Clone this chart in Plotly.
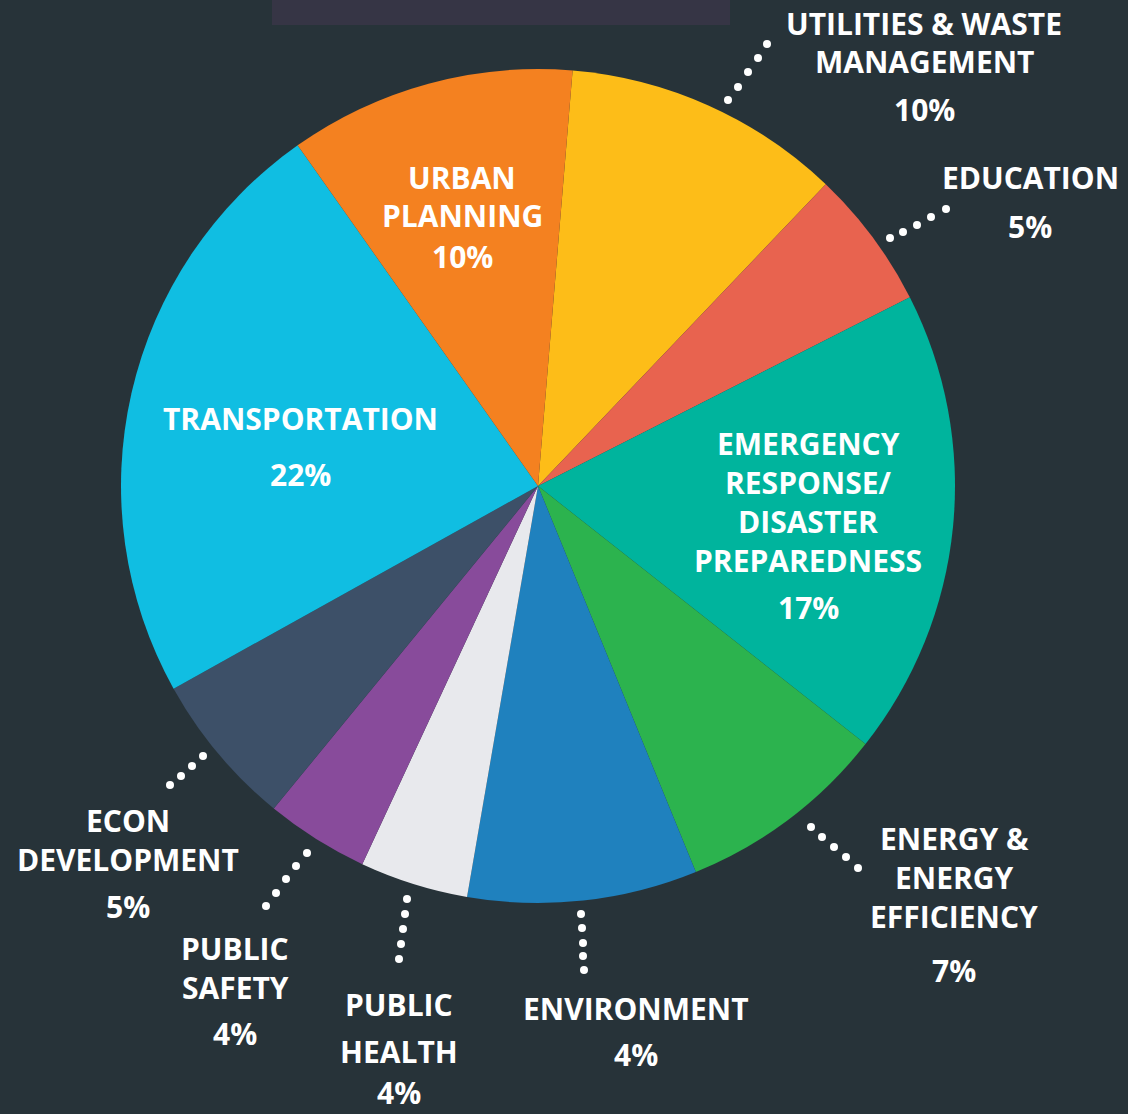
import plotly.graph_objects as go

# ---- data ----
categories = [
    "Utilities & Waste Management", "Education",
    "Emergency Response/Disaster Preparedness", "Energy & Energy Efficiency",
    "Environment", "Public Health", "Public Safety", "Econ Development",
    "Transportation", "Urban Planning",
]
slice_values = [10.8, 5.4, 18.1, 8.2, 8.9, 4.2, 4.0, 6.0, 23.3, 11.1]
label_pct = ["10%", "5%", "17%", "7%", "4%", "4%", "4%", "5%", "22%", "10%"]
colors = ["#FDBD18", "#E8634F", "#00B49D", "#2CB34E", "#1F81BE",
          "#E8E9ED", "#884B9B", "#3D5068", "#10BEE2", "#F48120"]

W, H = 1128, 1114
BG = "#273339"

def px(x):
    return x / W

def py(y):
    return 1 - y / H

cx, cy, r = 538, 486, 417

fig = go.Figure(go.Pie(
    labels=categories,
    values=slice_values,
    sort=False,
    direction="clockwise",
    rotation=4.76,
    marker=dict(colors=colors, line=dict(width=0)),
    textinfo="none",
    hoverinfo="label+percent",
    showlegend=False,
    domain=dict(x=[px(cx - r), px(cx + r)], y=[py(cy + r), py(cy - r)]),
))

# ---- text labels (line by line: text, x-center, y-center in px) ----
label_lines = [
    ("UTILITIES & WASTE", 924, 23), ("MANAGEMENT", 924, 62), (label_pct[0], 924, 109),
    ("EDUCATION", 1030, 178), (label_pct[1], 1030, 226),
    ("EMERGENCY", 808, 443), ("RESPONSE/", 808, 482), ("DISASTER", 808, 521),
    ("PREPAREDNESS", 808, 560), (label_pct[2], 808, 607),
    ("ENERGY &", 954, 838), ("ENERGY", 954, 877), ("EFFICIENCY", 954, 916),
    (label_pct[3], 954, 970),
    ("ENVIRONMENT", 636, 1008), (label_pct[4], 636, 1054),
    ("PUBLIC", 399, 1004), ("HEALTH", 399, 1051), (label_pct[5], 399, 1092),
    ("PUBLIC", 235, 948), ("SAFETY", 235, 987), (label_pct[6], 235, 1033),
    ("ECON", 128, 821), ("DEVELOPMENT", 128, 859), (label_pct[7], 128, 906),
    ("TRANSPORTATION", 300, 418), (label_pct[8], 300, 474),
    ("URBAN", 462, 177), ("PLANNING", 462, 216), (label_pct[9], 462, 256),
]

annotations = []
for t, x, y in label_lines:
    annotations.append(dict(
        text=t, x=px(x), y=py(y), xref="paper", yref="paper",
        xanchor="center", yanchor="middle", showarrow=False,
        font=dict(family="Open Sans", size=30, color="white", weight="bold"),
    ))

# ---- dotted leaders (dot centers in px) ----
dots = [
    [(728, 100), (738, 87), (748, 72), (758, 58), (767, 44)],
    [(890, 238), (903, 232), (917, 225), (931, 217), (946, 209)],
    [(811, 827), (822, 837), (834, 847), (846, 857), (858, 868)],
    [(581, 914), (582, 928), (583, 943), (583, 956), (584, 970)],
    [(407, 899), (405, 914), (403, 929), (401, 944), (399, 959)],
    [(307, 853), (296, 866), (286, 879), (276, 893), (266, 906)],
    [(170, 785), (181, 776), (192, 766), (203, 756)],
]
shapes = [dict(type="rect", xref="paper", yref="paper",
               x0=px(272), x1=px(730), y0=py(25), y1=py(-5),
               fillcolor="#363545", line=dict(width=0), layer="below")]
dr = 4
for group in dots:
    for (x, y) in group:
        shapes.append(dict(type="circle", xref="paper", yref="paper",
                           x0=px(x - dr), x1=px(x + dr), y0=py(y + dr), y1=py(y - dr),
                           fillcolor="white", line=dict(width=0)))

fig.update_layout(
    width=W, height=H,
    margin=dict(l=0, r=0, t=0, b=0),
    paper_bgcolor=BG, plot_bgcolor=BG,
    annotations=annotations,
    shapes=shapes,
)

fig.write_html("out.html")
